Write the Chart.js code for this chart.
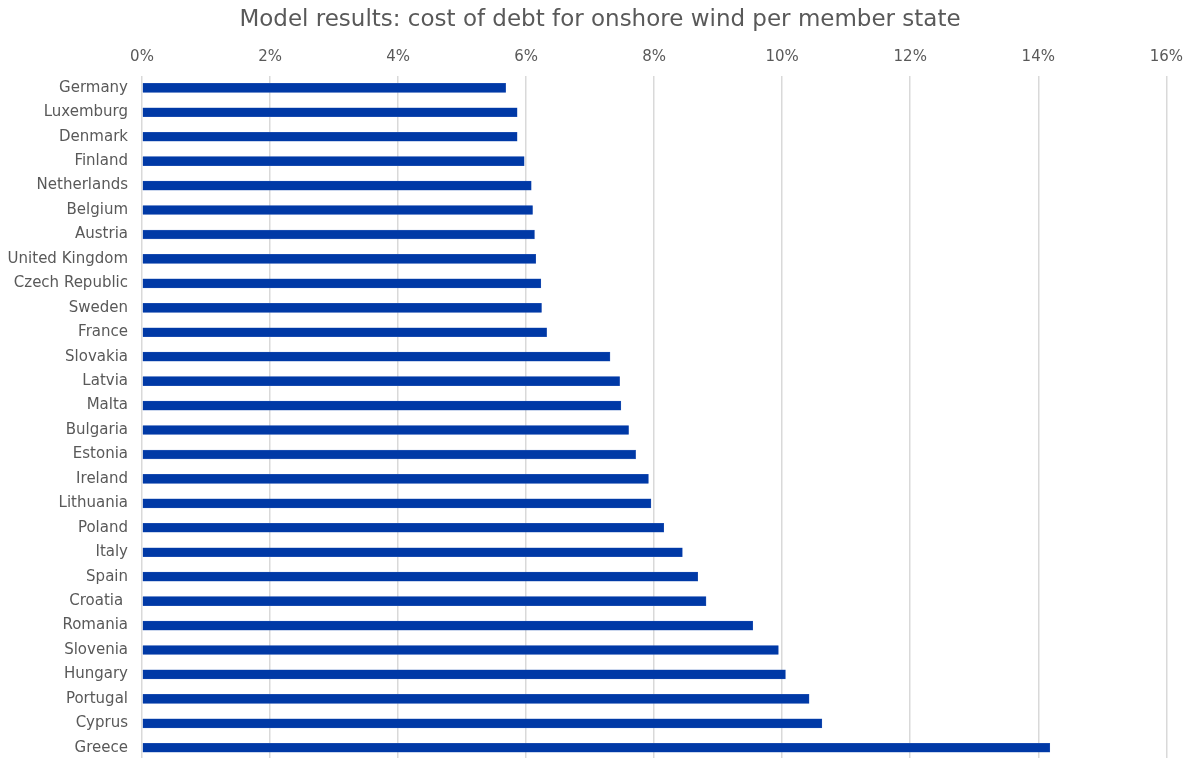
<!DOCTYPE html>
<html lang="en">
<head>
    <meta charset="UTF-8">
    <title>Cost of debt for onshore wind</title>
    <script src="https://cdn.jsdelivr.net/npm/chart.js@4"></script>
    <style>
        html, body { margin: 0; padding: 0; background: #fff; overflow: hidden; }
        .chart-box { width: 1192px; height: 762px; }
    </style>
</head>
<body>
    <div class="chart-box">
        <canvas id="debtChart"></canvas>
    </div>
    <script>
        // member states, lowest to highest cost of debt
        const countries = [
            'Germany', 'Luxemburg', 'Denmark', 'Finland', 'Netherlands', 'Belgium', 'Austria',
            'United Kingdom', 'Czech Republic', 'Sweden', 'France', 'Slovakia', 'Latvia', 'Malta',
            'Bulgaria', 'Estonia', 'Ireland', 'Lithuania', 'Poland', 'Italy', 'Spain', 'Croatia ',
            'Romania', 'Slovenia', 'Hungary', 'Portugal', 'Cyprus', 'Greece'
        ];

        // cost of debt in %
        const costOfDebt = [
            5.68, 5.86, 5.86, 5.97, 6.08, 6.10, 6.13,
            6.15, 6.23, 6.24, 6.32, 7.31, 7.46, 7.48,
            7.60, 7.71, 7.91, 7.95, 8.15, 8.44, 8.68, 8.81,
            9.54, 9.94, 10.05, 10.42, 10.62, 14.18
        ];

        // x axis ticks
        const axisMin = 0;
        const axisMax = 16;
        const axisStep = 2;

        const textColor = '#595959';
        const fontFamily = '"DejaVu Sans", Verdana, sans-serif';

        // vertical scales should not reserve room for half a label above/below
        function noEdgePadding(scale) {
            scale.paddingTop = 0;
            scale.paddingBottom = 0;
        }

        const ctx = document.getElementById('debtChart').getContext('2d');

        new Chart(ctx, {
            type: 'bar',
            data: {
                labels: countries,
                datasets: [{
                    label: 'Cost of debt',
                    data: costOfDebt,
                    backgroundColor: '#0039a6',
                    borderColor: '#2f5cb8',
                    borderWidth: 0.5,
                    barThickness: 9
                }]
            },
            options: {
                indexAxis: 'y',
                responsive: true,
                maintainAspectRatio: false,
                animation: false,
                layout: {
                    padding: { top: 0, right: 0, bottom: 2, left: 8 }
                },
                scales: {
                    x: {
                        position: 'top',
                        min: axisMin,
                        max: axisMax,
                        ticks: {
                            stepSize: axisStep,
                            padding: 9,
                            color: textColor,
                            font: { family: fontFamily, size: 15 },
                            callback: value => value + '%'
                        },
                        grid: {
                            color: '#d9d9d9',
                            lineWidth: 1.5,
                            drawTicks: false
                        },
                        border: { display: false }
                    },
                    y: {
                        ticks: {
                            padding: 14,
                            color: textColor,
                            font: { family: fontFamily, size: 15 },
                            autoSkip: false
                        },
                        grid: { display: false, drawTicks: false },
                        border: { display: false },
                        afterFit: scale => {
                            scale.width = 134;
                            noEdgePadding(scale);
                        }
                    },
                    // empty margin on the right so the title stays centred on the page
                    rightMargin: {
                        type: 'category',
                        position: 'right',
                        ticks: { display: false },
                        grid: { display: false, drawTicks: false },
                        border: { display: false },
                        afterFit: scale => {
                            scale.width = 25;
                            noEdgePadding(scale);
                        }
                    }
                },
                plugins: {
                    legend: { display: false },
                    tooltip: { enabled: false },
                    title: {
                        display: true,
                        text: 'Model results: cost of debt for onshore wind per member state',
                        color: textColor,
                        font: { family: fontFamily, size: 23, weight: 'normal' },
                        padding: { top: 6, bottom: 6 }
                    }
                }
            }
        });
    </script>
</body>
</html>
